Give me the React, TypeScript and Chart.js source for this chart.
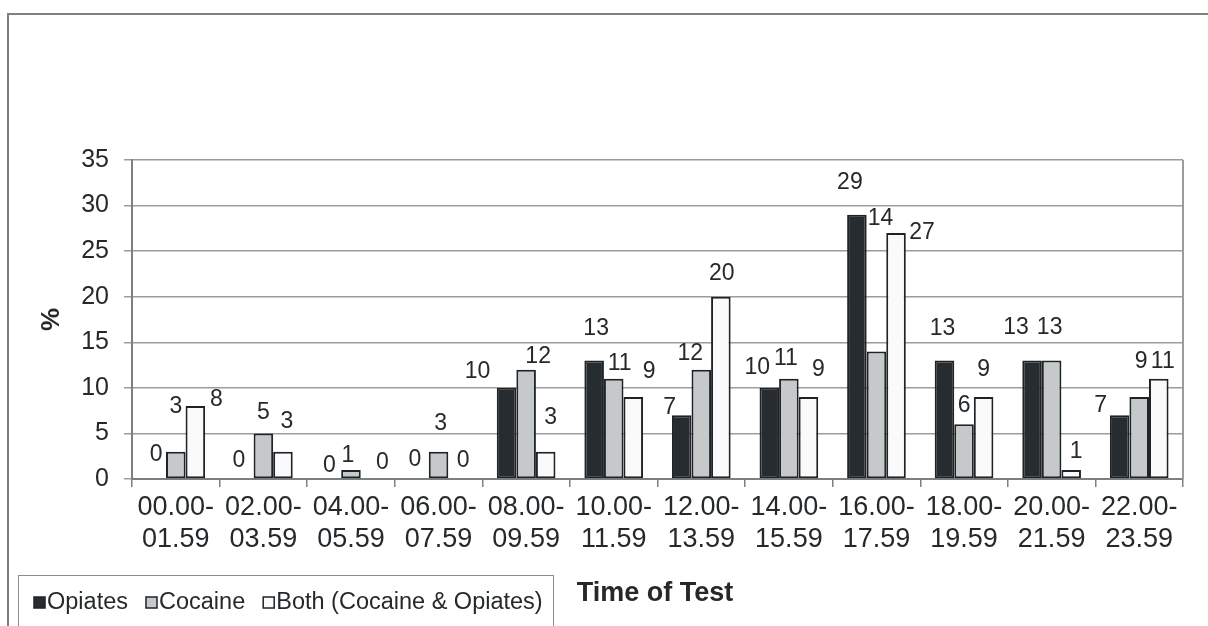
import React, { useEffect, useRef } from "react";
import { Chart, registerables } from "chart.js";

Chart.register(...registerables);

const categories: string[][] = [
  ["00.00-", "01.59"], ["02.00-", "03.59"], ["04.00-", "05.59"], ["06.00-", "07.59"],
  ["08.00-", "09.59"], ["10.00-", "11.59"], ["12.00-", "13.59"], ["14.00-", "15.59"],
  ["16.00-", "17.59"], ["18.00-", "19.59"], ["20.00-", "21.59"], ["22.00-", "23.59"],
];
const seriesNames = ["Opiates", "Cocaine", "Both (Cocaine & Opiates)"];
const opiates = [0, 0, 0, 0, 10, 13, 7, 10, 29, 13, 13, 7];
const cocaine = [3, 5, 1, 3, 12, 11, 12, 11, 14, 6, 13, 9];
const both = [8, 3, 0, 0, 3, 9, 20, 9, 27, 9, 1, 11];
const yTicks = [0, 5, 10, 15, 20, 25, 30, 35];
const xTitle = "Time of Test";
const yTitle = "%";

// label nudges relative to the bar top (style, not data)
const labelDx = [
  [0, -5, -2, -4, -29, 2, -12, -12, -7, -2, -16, -19],
  [0, 0, -3, 2, 12, 6, -11, -3, 4, 0, -2, 2],
  [21, 4, 12, 5, 5, 16, 1, 10, 26, 0, 5, 4],
];
const labelDy = [
  [-24, -18, -13, -19, -16, -32, -8, -20, -32, -32, -33, -10],
  [-45, -21, -14, -28, -13, -15, -16, -20, -133, -19, -33, -35],
  [-6, -30, -16, -18, -34, -25, -23, -27, 0, -27, -18, -17],
];

const FONT = "'Liberation Sans', Arial, sans-serif";
const fills = ["#272c30", "#c6c9ca", "#fafafa"];
const edge = "#1f2327";
const frame = "#7b8081";
const gridCol = "#9a9d9e";
const textCol = "#25292c";

export default function App() {
  const ref = useRef<HTMLCanvasElement | null>(null);
  useEffect(() => {
    document.body.style.margin = "0";
    document.body.style.overflow = "hidden";
    const cv = ref.current!;
    const decor = {
      id: "decor",
      beforeDraw(chart: any) {
        const ctx = chart.ctx;
        ctx.save();
        ctx.fillStyle = "#ffffff";
        ctx.fillRect(0, 0, chart.width, chart.height);
        ctx.strokeStyle = frame;
        ctx.lineWidth = 2;
        ctx.beginPath();
        ctx.moveTo(8, chart.height + 2);
        ctx.lineTo(8, 14);
        ctx.lineTo(chart.width + 2, 14);
        ctx.stroke();
        ctx.restore();
      },
      afterDraw(chart: any) {
        const ctx = chart.ctx;
        const a = chart.chartArea;
        ctx.save();
        ctx.strokeStyle = gridCol;
        ctx.lineWidth = 2;
        ctx.beginPath();
        ctx.moveTo(a.right, a.top);
        ctx.lineTo(a.right, a.bottom);
        ctx.stroke();
        // y title
        ctx.fillStyle = textCol;
        ctx.font = `bold 26px ${FONT}`;
        ctx.textAlign = "center";
        ctx.textBaseline = "middle";
        ctx.save();
        ctx.translate(52, (a.top + a.bottom) / 2);
        ctx.rotate(-Math.PI / 2);
        ctx.fillText(yTitle, 0, 0);
        ctx.restore();
        // x title
        ctx.font = `bold 27px ${FONT}`;
        ctx.fillText(xTitle, 655, 594);
        // legend
        ctx.strokeStyle = "#8a8d8e";
        ctx.lineWidth = 1;
        ctx.strokeRect(18.5, 575.5, 535, 80);
        ctx.font = `23.5px ${FONT}`;
        ctx.textAlign = "left";
        let x = 34;
        seriesNames.forEach((n, i) => {
          ctx.fillStyle = fills[i];
          ctx.fillRect(x, 597, 11, 11);
          ctx.strokeStyle = edge;
          ctx.lineWidth = 1.5;
          ctx.strokeRect(x, 597, 11, 11);
          ctx.fillStyle = textCol;
          ctx.fillText(n, x + 13, 603);
          x += 13 + ctx.measureText(n).width + 18;
        });
        // data labels
        ctx.font = `23px ${FONT}`;
        ctx.textAlign = "center";
        chart.data.datasets.forEach((ds: any, i: number) => {
          const meta = chart.getDatasetMeta(i);
          meta.data.forEach((el: any, j: number) => {
            ctx.fillText(String(ds.data[j]), el.x + labelDx[i][j], el.y + labelDy[i][j]);
          });
        });
        ctx.restore();
      },
    };
    const chart = new Chart(cv, {
      type: "bar",
      data: {
        labels: categories as any,
        datasets: [opiates, cocaine, both].map((d, i) => ({
          label: seriesNames[i],
          data: d,
          backgroundColor: fills[i],
          borderColor: edge,
          borderWidth: 2,
          borderSkipped: false as any,
          categoryPercentage: 0.67,
          barPercentage: 1.0,
        })),
      },
      options: {
        responsive: false,
        animation: false,
        devicePixelRatio: 1,
        layout: { padding: { left: 0, top: 160, right: 25, bottom: 0 } },
        plugins: { legend: { display: false }, tooltip: { enabled: false } },
        scales: {
          x: {
            grid: { offset: true, drawOnChartArea: false, tickLength: 8, color: frame, lineWidth: 1.5 },
            border: { color: frame, width: 2 },
            ticks: {
              color: textCol,
              font: { family: FONT, size: 27, lineHeight: 1.185 },
              padding: 5,
              maxRotation: 0,
              autoSkip: false,
            },
            afterFit: (s: any) => { s.height = 147; },
          },
          y: {
            min: 0,
            max: 35,
            afterBuildTicks: (s: any) => { s.ticks = yTicks.map((v) => ({ value: v })); },
            ticks: { color: textCol, font: { family: FONT, size: 25 }, padding: 15 },
            grid: { color: gridCol, lineWidth: 1.5, tickLength: 8 },
            border: { color: frame, width: 2 },
            afterFit: (s: any) => { s.width = 132; },
          },
        },
      },
      plugins: [decor],
    });
    return () => chart.destroy();
  }, []);
  return <canvas ref={ref} width={1208} height={626} style={{ display: "block" }} />;
}
